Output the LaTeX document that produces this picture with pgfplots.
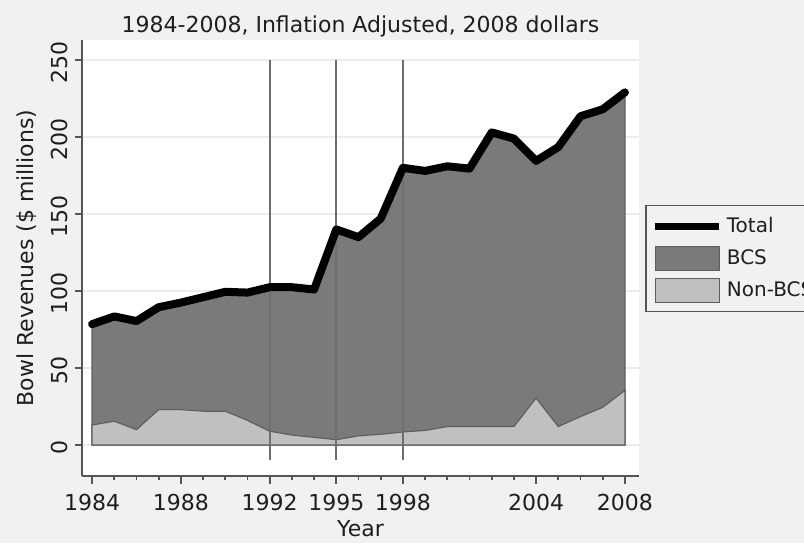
\documentclass[border=0pt]{standalone}
\usepackage{fontspec}
\setmainfont{DejaVu Sans}
\usepackage{pgfplots}
\usepackage{pgfplotstable}
\pgfplotsset{compat=1.18}
\definecolor{bg}{HTML}{F1F1F1}
\definecolor{bcs}{HTML}{7A7A7A}
\definecolor{nonbcs}{HTML}{C0C0C0}
\definecolor{edge}{HTML}{5E5E5E}
\definecolor{vline}{HTML}{6E6E6E}
\definecolor{axc}{HTML}{555555}
\definecolor{gridc}{HTML}{EBEBEB}
\definecolor{txt}{HTML}{1E1E1E}

\pgfplotstableread{
year total nonbcs
1984 78.5 13
1985 83.5 15.5
1986 80.5 10
1987 89.5 23
1988 92.5 23
1989 96 22
1990 99.5 22
1991 99 16
1992 102.5 9
1993 102.5 6.5
1994 101 5
1995 140 3.5
1996 135 6
1997 147 7
1998 180 8.5
1999 178 9.5
2000 181 12
2001 179.5 12
2002 203 12
2003 199 12
2004 184.5 30.5
2005 193.5 12
2006 213.5 18.5
2007 218 24.5
2008 229 35.5
}\data

\begin{document}
\begin{tikzpicture}
\fill[bg] (-41pt,-33.5pt) rectangle (361pt,238pt);
\begin{axis}[
  at={(0pt,0pt)}, anchor=south west,
  scale only axis, width=276pt, height=218pt,
  xmin=1983.545, xmax=2008.636, ymin=-20.1, ymax=263,
  axis x line*=bottom, axis y line*=left,
  axis line style={axc, line width=0.9pt},
  axis background/.style={fill=white},
  major tick length=3.75pt, minor tick length=2pt,
  tick align=outside,
  every tick/.style={axc, line width=0.9pt},
  xtick={1984,1988,1992,1995,1998,2004,2008},
  minor xtick={1984,...,2008},
  ytick={0,50,...,250},
  ymajorgrids, grid style={gridc, line width=0.6pt},
  yticklabel style={rotate=90, anchor=south, xshift=-1pt},
  xticklabel style={/pgf/number format/1000 sep={}, yshift=-2pt},
  /pgf/number format/assume math mode=true,
  tick label style={font=\fontsize{11}{13}\selectfont, text=txt},
  title={1984-2008, Inflation Adjusted, 2008 dollars},
  title style={at={(axis description cs:0.5,1.004)}, anchor=center, font=\fontsize{11}{13}\selectfont, text=txt},
  xlabel={Year},
  xlabel style={at={(axis description cs:0.5,-0.12)}, anchor=center, font=\fontsize{11}{13}\selectfont, text=txt},
  ylabel={Bowl Revenues (\$ millions)},
  ylabel style={at={(axis description cs:-0.1,0.5)}, anchor=center, font=\fontsize{11}{13}\selectfont, text=txt},
  legend style={at={(axis description cs:1.0109,0.622)}, anchor=north west,
    draw=axc, fill=bg, line width=0.8pt, font=\fontsize{10}{12}\selectfont,
    text=txt, row sep=3pt, inner ysep=4pt},
  legend cell align=left,
]
\addlegendimage{legend image code/.code={\draw[black,line width=3.5pt] (0pt,0pt) -- (32pt,0pt);}}
\addlegendentry{Total}
\addlegendimage{legend image code/.code={\draw[fill=bcs,draw=edge,line width=0.6pt] (0pt,-6pt) rectangle (32pt,6pt);}}
\addlegendentry{BCS}
\addlegendimage{legend image code/.code={\draw[fill=nonbcs,draw=edge,line width=0.6pt] (0pt,-6pt) rectangle (32pt,6pt);}}
\addlegendentry{Non-BCS}

\addplot[fill=bcs, draw=edge, line width=0.6pt, forget plot] table[x=year,y=total]{\data} \closedcycle;
\addplot[fill=nonbcs, draw=edge, line width=0.6pt, forget plot] table[x=year,y=nonbcs]{\data} \closedcycle;
\addplot[vline, line width=1pt, forget plot] coordinates {(1992,-10) (1992,250)};
\addplot[vline, line width=1pt, forget plot] coordinates {(1995,-10) (1995,250)};
\addplot[vline, line width=1pt, forget plot] coordinates {(1998,-10) (1998,250)};
\addplot[black, line width=4pt, line join=round, line cap=round, forget plot] table[x=year,y=total]{\data};
\end{axis}
\pgfresetboundingbox
\path[use as bounding box] (-41pt,-33.5pt) rectangle (361pt,238pt);
\end{tikzpicture}
\end{document}
